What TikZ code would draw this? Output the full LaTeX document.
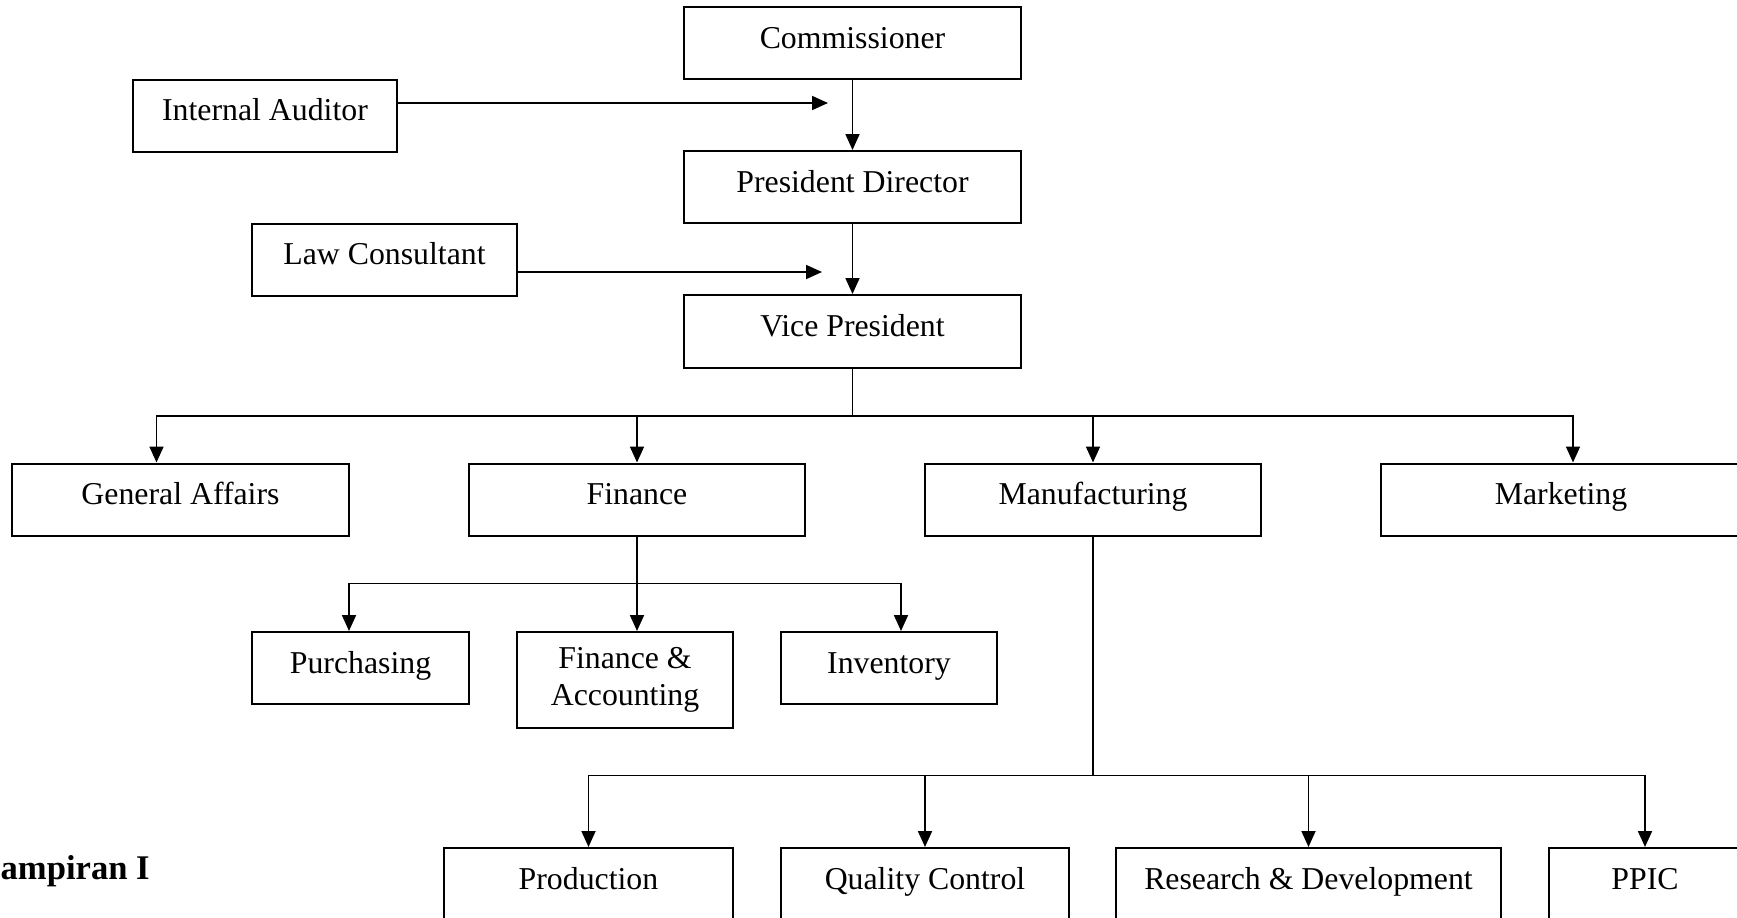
\documentclass[tikz,border=0pt]{standalone}
\usepackage{fontspec}
\setmainfont{Liberation Serif}
\usetikzlibrary{arrows.meta,calc}

\begin{document}
\begin{tikzpicture}[x=1pt, y=-1pt,
		unit/.style={draw, line width=2pt, inner sep=0pt, minimum height=72pt, font=\fontsize{31.8}{36.6}\selectfont},
		unitone/.style={unit, text height=24pt, text depth=14pt},
		link/.style={line width=1.8pt},
		arr/.style={link, -{Triangle[length=16pt, width=14pt]}}]
		\useasboundingbox (0,0) rectangle (1737,918);
		\clip (0,0) rectangle (1737,918);
		
		\node [unitone, minimum width=337pt] (comm) at (852.5, 43) {Commissioner};
		\node [unitone, minimum width=337pt] (pd) at (852.5, 187) {President Director};
		\node [unitone, minimum width=337pt, minimum height=73pt] (vp) at (852.5, 331.5) {Vice President};
		\node [unitone, minimum width=264pt] (ia) at (265, 115.5) {Internal Auditor};
		\node [unitone, minimum width=265pt] (lc) at (384.5, 259.5) {Law Consultant};
		
		\node [unitone, minimum width=337pt] (ga) at (180.5, 499.5) {General Affairs};
		\node [unitone, minimum width=336pt] (fin) at (637, 499.5) {Finance};
		\node [unitone, minimum width=336pt] (manuf) at (1093, 499.5) {Manufacturing};
		\node [unitone, minimum width=360pt] (mkt) at (1561, 499.5) {Marketing};
		
		\node [unitone, minimum width=217pt] (purch) at (360.5, 668) {Purchasing};
		\node [unit, minimum width=216pt, minimum height=96pt, align=center] (fa) at (625, 680) {Finance \&\\Accounting};
		\node [unitone, minimum width=216pt] (inv) at (889, 668) {Inventory};
		
		\node [unitone, minimum width=289pt] (prod) at (588.5, 884) {Production};
		\node [unitone, minimum width=288pt] (qc) at (925, 884) {Quality Control};
		\node [unitone, minimum width=385pt] (rd) at (1308.5, 884) {Research \& Development};
		\node [unitone, minimum width=192pt] (ppic) at (1645, 884) {PPIC};
		
		\node [anchor=base west, inner sep=0pt, font=\fontsize{34.6}{41}\selectfont\bfseries] (lamp) at (0.5, 879.5) {ampiran I};
		
		\coordinate (iaend) at (828, 103);
		\coordinate (lcend) at (822, 272);
		\draw [arr] (comm.south) -- (pd.north);
		\draw [arr] (pd.south) -- (vp.north);
		\draw [arr] (ia.east |- iaend) -- (iaend);
		\draw [arr] (lc.east |- lcend) -- (lcend);
		
		\path (vp.south) ++(0, 47) coordinate (topbus);
		\draw [link] (vp.south) -- (topbus);
		\draw [arr] (topbus) -| ($(ga.north)+(-24, 0)$);
		\draw [arr] (topbus) -| (fin.north);
		\draw [arr] (topbus) -| (manuf.north);
		\draw [arr] (topbus) -| ($(mkt.north)+(12, 0)$);
		
		\path (fin.south) ++(0, 47) coordinate (finbus);
		\draw [link] (fin.south) -- (finbus);
		\draw [arr] (finbus) -| ($(purch.north)+(-11.5, 0)$);
		\draw [arr] (finbus) -| ($(fa.north)+(12, 0)$);
		\draw [arr] (finbus) -| ($(inv.north)+(12, 0)$);
		
		\path (manuf.south) ++(0, 239) coordinate (manbus);
		\draw [link] (manuf.south) -- (manbus);
		\draw [arr] (manbus) -| (prod.north);
		\draw [arr] (manbus) -| (qc.north);
		\draw [arr] (manbus) -| (rd.north);
		\draw [arr] (manbus) -| (ppic.north);
		
\end{tikzpicture}
\end{document}
